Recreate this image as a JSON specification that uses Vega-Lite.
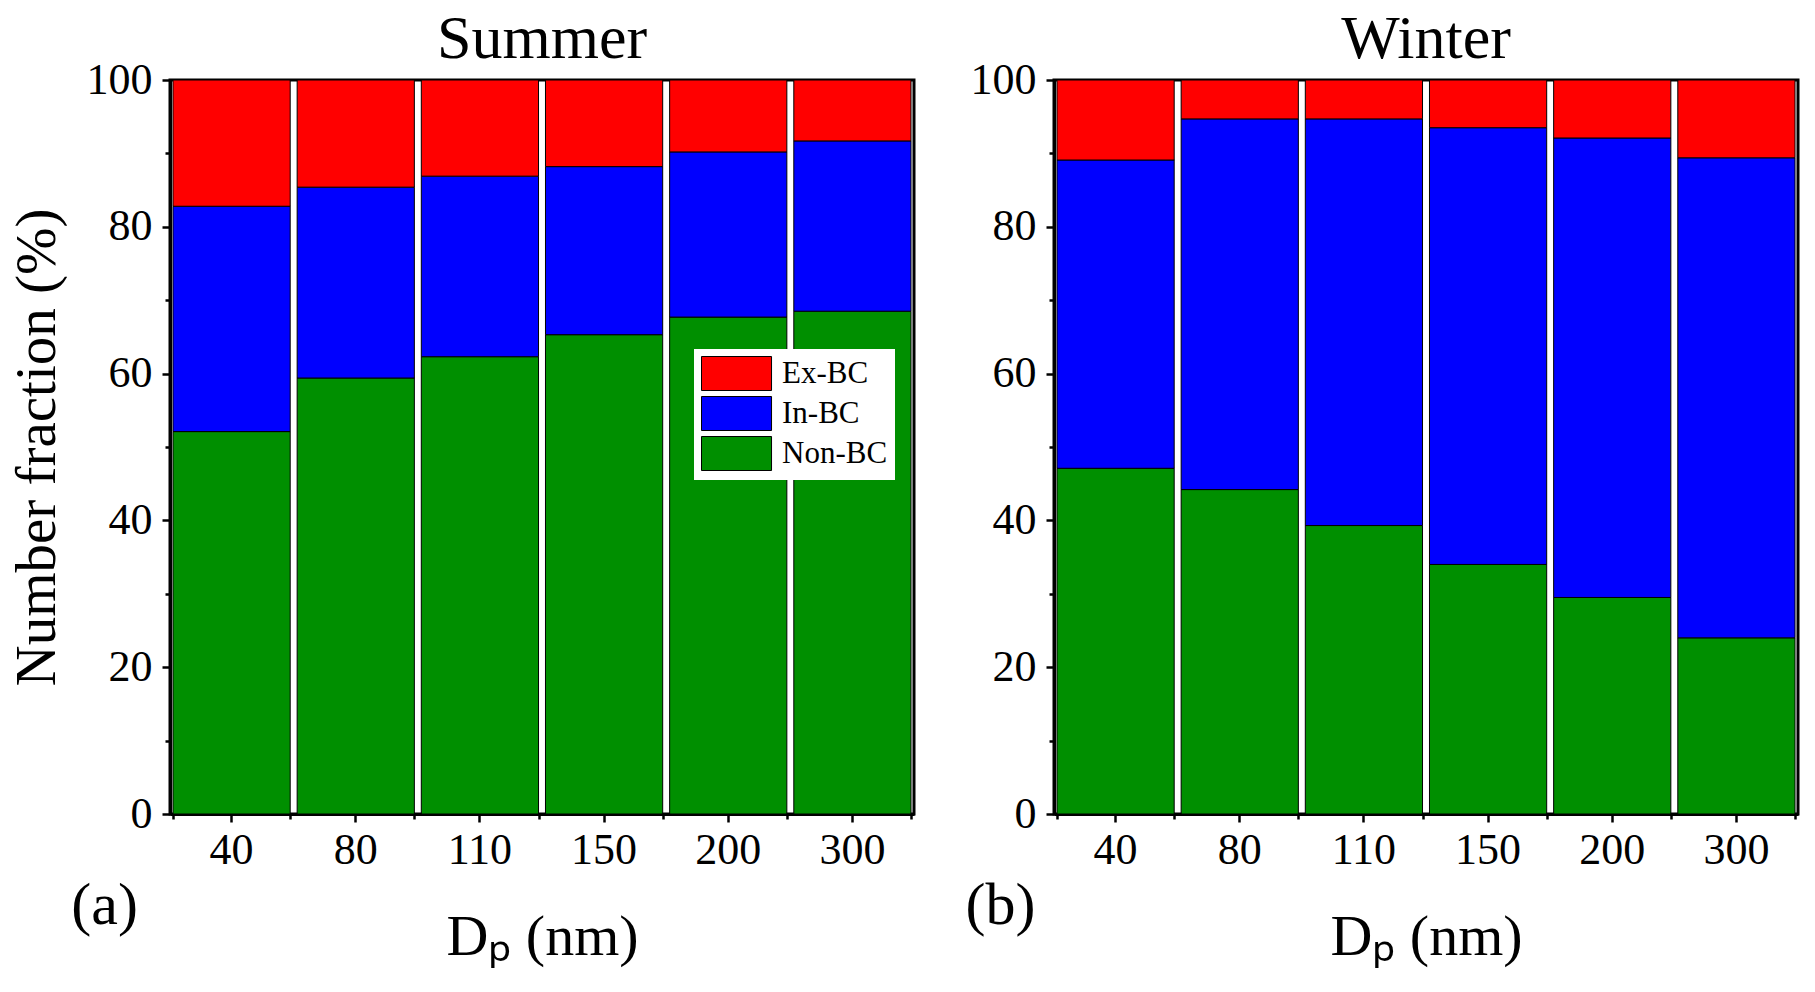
{
  "$schema": "https://vega.github.io/schema/vega-lite/v6.json",
  "description": "Number fraction of Ex-BC, In-BC and Non-BC particles by size, summer and winter.",
  "background": "white",
  "padding": {"left": 6, "top": 6, "right": 10, "bottom": 0},
  "config": {
    "font": "Liberation Serif",
    "view": {"stroke": "black", "strokeWidth": 3},
    "axis": {
      "grid": false,
      "domainColor": "black",
      "domainWidth": 3,
      "tickColor": "black",
      "tickWidth": 2.5,
      "tickSize": 8,
      "labelFont": "Liberation Serif",
      "labelFontSize": 44,
      "labelColor": "black",
      "titleFont": "Liberation Serif",
      "titleFontWeight": "normal",
      "titleColor": "black"
    },
    "title": {"font": "Liberation Serif", "fontSize": 62, "fontWeight": "normal", "color": "black", "offset": -13}
  },
  "data": {
    "values": [
      {"season": "Summer", "dp": 40, "type": "Non-BC", "value": 52.1},
      {"season": "Summer", "dp": 40, "type": "In-BC", "value": 30.7},
      {"season": "Summer", "dp": 40, "type": "Ex-BC", "value": 17.2},
      {"season": "Summer", "dp": 80, "type": "Non-BC", "value": 59.4},
      {"season": "Summer", "dp": 80, "type": "In-BC", "value": 26.0},
      {"season": "Summer", "dp": 80, "type": "Ex-BC", "value": 14.6},
      {"season": "Summer", "dp": 110, "type": "Non-BC", "value": 62.3},
      {"season": "Summer", "dp": 110, "type": "In-BC", "value": 24.6},
      {"season": "Summer", "dp": 110, "type": "Ex-BC", "value": 13.1},
      {"season": "Summer", "dp": 150, "type": "Non-BC", "value": 65.3},
      {"season": "Summer", "dp": 150, "type": "In-BC", "value": 22.9},
      {"season": "Summer", "dp": 150, "type": "Ex-BC", "value": 11.8},
      {"season": "Summer", "dp": 200, "type": "Non-BC", "value": 67.7},
      {"season": "Summer", "dp": 200, "type": "In-BC", "value": 22.5},
      {"season": "Summer", "dp": 200, "type": "Ex-BC", "value": 9.8},
      {"season": "Summer", "dp": 300, "type": "Non-BC", "value": 68.5},
      {"season": "Summer", "dp": 300, "type": "In-BC", "value": 23.2},
      {"season": "Summer", "dp": 300, "type": "Ex-BC", "value": 8.3},
      {"season": "Winter", "dp": 40, "type": "Non-BC", "value": 47.1},
      {"season": "Winter", "dp": 40, "type": "In-BC", "value": 42.0},
      {"season": "Winter", "dp": 40, "type": "Ex-BC", "value": 10.9},
      {"season": "Winter", "dp": 80, "type": "Non-BC", "value": 44.2},
      {"season": "Winter", "dp": 80, "type": "In-BC", "value": 50.5},
      {"season": "Winter", "dp": 80, "type": "Ex-BC", "value": 5.3},
      {"season": "Winter", "dp": 110, "type": "Non-BC", "value": 39.3},
      {"season": "Winter", "dp": 110, "type": "In-BC", "value": 55.4},
      {"season": "Winter", "dp": 110, "type": "Ex-BC", "value": 5.3},
      {"season": "Winter", "dp": 150, "type": "Non-BC", "value": 34.0},
      {"season": "Winter", "dp": 150, "type": "In-BC", "value": 59.5},
      {"season": "Winter", "dp": 150, "type": "Ex-BC", "value": 6.5},
      {"season": "Winter", "dp": 200, "type": "Non-BC", "value": 29.5},
      {"season": "Winter", "dp": 200, "type": "In-BC", "value": 62.6},
      {"season": "Winter", "dp": 200, "type": "Ex-BC", "value": 7.9},
      {"season": "Winter", "dp": 300, "type": "Non-BC", "value": 24.0},
      {"season": "Winter", "dp": 300, "type": "In-BC", "value": 65.4},
      {"season": "Winter", "dp": 300, "type": "Ex-BC", "value": 10.6}
    ]
  },
  "spacing": 48,
  "resolve": {"legend": {"color": "independent"}},
  "hconcat": [
    {
      "title": "Summer",
      "width": 744,
      "height": 734,
      "resolve": {"axis": {"x": "independent", "y": "independent"}},
      "layer": [
        {
          "transform": [{"filter": "datum.season === 'Summer'"}],
          "mark": {"type": "bar", "stroke": "black", "strokeWidth": 1},
          "encoding": {
            "x": {
              "field": "dp",
              "type": "ordinal",
              "sort": [40, 80, 110, 150, 200, 300],
              "scale": {"paddingInner": 0.056, "paddingOuter": 0.024},
              "axis": {"labelAngle": 0, "labelPadding": 6, "titleFontSize": 58, "titlePadding": 36},
              "title": "Dₚ (nm)"
            },
            "y": {
              "field": "value",
              "type": "quantitative",
              "stack": "zero",
              "scale": {"domain": [0, 100]},
              "axis": {"values": [0, 20, 40, 60, 80, 100], "labelPadding": 10, "titleFontSize": 57, "titlePadding": 20},
              "title": "Number fraction (%)"
            },
            "color": {
              "field": "type",
              "type": "nominal",
              "scale": {"domain": ["Ex-BC", "In-BC", "Non-BC"], "range": ["#FF0000", "#0000FF", "#008F00"]},
              "legend": {
                "orient": "none",
                "legendX": 524,
                "legendY": 269,
                "title": null,
                "fillColor": "white",
                "padding": 7,
                "symbolType": "M-1,-1H3.12V1H-1Z",
                "symbolSize": 1156,
                "symbolStrokeColor": "black",
                "symbolStrokeWidth": 1,
                "symbolOpacity": 1,
                "labelFont": "Liberation Serif",
                "labelFontSize": 31,
                "labelColor": "black",
                "labelOffset": 46,
                "rowPadding": 1
              }
            },
            "order": {"field": "type", "sort": "descending"}
          }
        },
        {
          "data": {"values": [{"tag": "(a)"}]},
          "mark": {"type": "text", "fontSize": 60, "dx": -127, "baseline": "middle", "color": "black"},
          "encoding": {
            "x": {"datum": 40, "type": "ordinal", "axis": {"tickBand": "extent", "labels": false, "domain": false, "tickSize": 5, "title": null, "orient": "bottom"}},
            "y": {"datum": -12.5, "type": "quantitative", "axis": {"values": [10, 30, 50, 70, 90], "labels": false, "domain": false, "tickSize": 5, "title": null, "orient": "left"}},
            "text": {"field": "tag"}
          }
        }
      ]
    },
    {
      "title": "Winter",
      "width": 744,
      "height": 734,
      "resolve": {"axis": {"x": "independent", "y": "independent"}},
      "layer": [
        {
          "transform": [{"filter": "datum.season === 'Winter'"}],
          "mark": {"type": "bar", "stroke": "black", "strokeWidth": 1},
          "encoding": {
            "x": {
              "field": "dp",
              "type": "ordinal",
              "sort": [40, 80, 110, 150, 200, 300],
              "scale": {"paddingInner": 0.056, "paddingOuter": 0.024},
              "axis": {"labelAngle": 0, "labelPadding": 6, "titleFontSize": 58, "titlePadding": 36},
              "title": "Dₚ (nm)"
            },
            "y": {
              "field": "value",
              "type": "quantitative",
              "stack": "zero",
              "scale": {"domain": [0, 100]},
              "axis": {"values": [0, 20, 40, 60, 80, 100], "labelPadding": 10},
              "title": null
            },
            "color": {
              "field": "type",
              "type": "nominal",
              "scale": {"domain": ["Ex-BC", "In-BC", "Non-BC"], "range": ["#FF0000", "#0000FF", "#008F00"]},
              "legend": null
            },
            "order": {"field": "type", "sort": "descending"}
          }
        },
        {
          "data": {"values": [{"tag": "(b)"}]},
          "mark": {"type": "text", "fontSize": 60, "dx": -115, "baseline": "middle", "color": "black"},
          "encoding": {
            "x": {"datum": 40, "type": "ordinal", "axis": {"tickBand": "extent", "labels": false, "domain": false, "tickSize": 5, "title": null, "orient": "bottom"}},
            "y": {"datum": -12.5, "type": "quantitative", "axis": {"values": [10, 30, 50, 70, 90], "labels": false, "domain": false, "tickSize": 5, "title": null, "orient": "left"}},
            "text": {"field": "tag"}
          }
        }
      ]
    }
  ]
}
